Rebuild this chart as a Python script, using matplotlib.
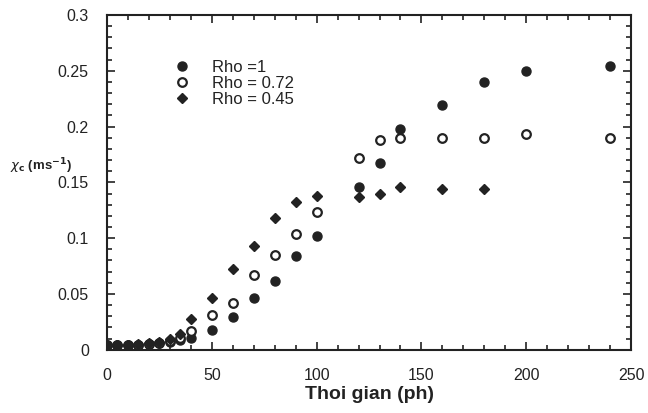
import matplotlib.pyplot as plt
from matplotlib.ticker import MultipleLocator

plt.rcParams['font.family'] = ['Liberation Sans', 'DejaVu Sans']

# thoi gian (ph)
t = [0, 5, 10, 15, 20, 25, 30, 35, 40, 50, 60, 70, 80, 90, 100,
     120, 130, 140, 160, 180, 200, 240]
t_045 = t[:20]

rho_1 = [0.004, 0.004, 0.004, 0.004, 0.005, 0.006, 0.007, 0.009, 0.011,
         0.018, 0.029, 0.046, 0.062, 0.084, 0.102, 0.146, 0.167, 0.198,
         0.219, 0.240, 0.250, 0.254]
rho_072 = [0.004, 0.004, 0.004, 0.004, 0.005, 0.006, 0.008, 0.011, 0.017,
           0.031, 0.042, 0.067, 0.085, 0.104, 0.123, 0.172, 0.188, 0.190,
           0.190, 0.190, 0.193, 0.190]
rho_045 = [0.004, 0.004, 0.004, 0.005, 0.006, 0.007, 0.010, 0.014, 0.028,
           0.046, 0.072, 0.093, 0.118, 0.132, 0.138, 0.137, 0.140, 0.146,
           0.144, 0.144]

labels = ['Rho =1', 'Rho = 0.72', 'Rho = 0.45']
ink = '#222222'

fig = plt.figure(figsize=(6.48, 4.13), dpi=100)
ax = fig.add_axes([0.165, 0.153, 0.809, 0.811])

ax.plot(t, rho_1, 'o', ms=6.5, color=ink, mec=ink, label=labels[0])
ax.plot(t, rho_072, 'o', ms=6.2, mfc='white', mec=ink, mew=1.6, label=labels[1])
ax.plot(t_045, rho_045, 'D', ms=4.8, color=ink, mec=ink, label=labels[2])

ax.set_xlim(0, 250)
ax.set_ylim(0, 0.3)
ax.xaxis.set_major_locator(MultipleLocator(50))
ax.xaxis.set_minor_locator(MultipleLocator(10))
ax.yaxis.set_major_locator(MultipleLocator(0.05))
ax.yaxis.set_minor_locator(MultipleLocator(0.01))
ax.set_yticks([0, 0.05, 0.1, 0.15, 0.2, 0.25, 0.3])
ax.set_yticklabels(['0', '0.05', '0.1', '0.15', '0.2', '0.25', '0.3'])

ax.tick_params(which='both', direction='in', top=True, right=True,
               color=ink, width=1.2)
ax.tick_params(which='major', length=6)
ax.tick_params(which='minor', length=3.5)
ax.tick_params(axis='x', which='major', pad=13, labelsize=11.5, labelcolor=ink)
ax.tick_params(axis='y', which='major', pad=13, labelsize=11.5, labelcolor=ink)
for s in ax.spines.values():
    s.set_linewidth(1.5)
    s.set_color(ink)

ax.set_xlabel('Thoi gian (ph)', fontsize=14, fontweight='bold', color=ink, labelpad=2)
fig.text(0.015, 0.597, r'$\chi_\mathbf{c}$ (ms$^{\mathbf{-1}}$)', fontsize=9.5,
         fontweight='bold', color=ink, ha='left', va='center')

ax.legend(loc='upper left', bbox_to_anchor=(0.115, 0.885), frameon=False,
          fontsize=12, handletextpad=1.3, labelspacing=0.05,
          borderaxespad=0, handlelength=1.0, labelcolor=ink)

fig.savefig('out.png', dpi=100)
